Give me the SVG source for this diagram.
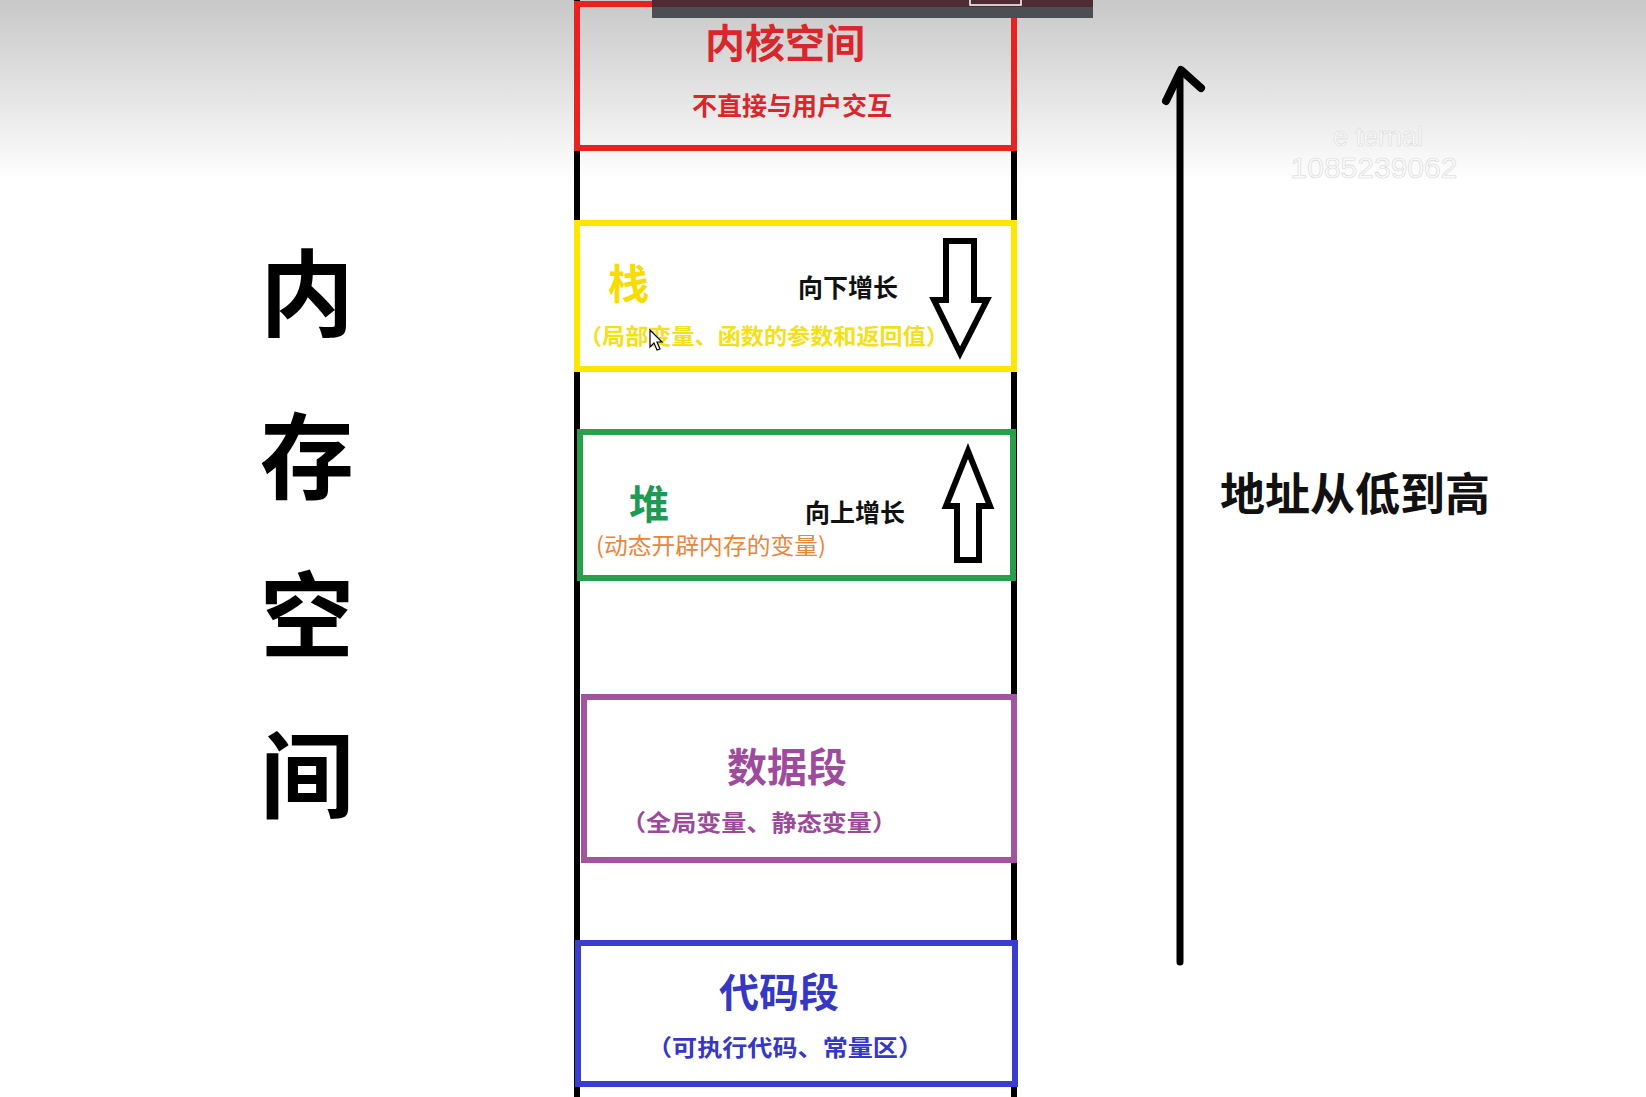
<svg xmlns="http://www.w3.org/2000/svg" width="1646" height="1097" viewBox="0 0 1646 1097">
<defs>
<linearGradient id="bg" x1="0" y1="0" x2="0" y2="1097" gradientUnits="userSpaceOnUse">
<stop offset="0" stop-color="#c8c8c8"/>
<stop offset="0.08" stop-color="#e2e2e2"/>
<stop offset="0.165" stop-color="#ffffff"/>
<stop offset="1" stop-color="#ffffff"/>
</linearGradient>
<style>
text{font-family:"Noto Sans CJK SC","Noto Sans",sans-serif;font-weight:bold}
.box{fill:none;stroke-width:6}
.mid{text-anchor:middle}
.big{font-size:94px;fill:#000;text-anchor:middle}
.blockarrow{fill:#fff;stroke:#000;stroke-width:6;stroke-linejoin:miter}
.wm{font-family:"Liberation Sans",sans-serif;font-weight:normal;text-anchor:middle;fill:#fbfbfb;stroke:#d8d8d8;stroke-width:0.6}
</style>
</defs>
<rect x="0" y="0" width="1646" height="1097" fill="url(#bg)"/>

<!-- watermark -->
<g id="watermark">
<text class="wm" x="1378" y="146" font-size="27">e  ternal</text>
<text class="wm" x="1374" y="178" font-size="30">1085239062</text>
</g>

<!-- memory column side lines -->
<g id="frame" stroke="#000" stroke-width="6">
<line x1="577" y1="0" x2="577" y2="1097"/>
<line x1="1014" y1="0" x2="1014" y2="1097"/>
</g>

<!-- left title -->
<g id="title">
<text class="big" x="307" y="329">内</text>
<text class="big" x="307" y="492">存</text>
<text class="big" x="307" y="651">空</text>
<text class="big" x="307" y="811">间</text>
</g>

<g id="kernel">
<rect class="box" x="577" y="4" width="437" height="144" stroke="#e8231f"/>
<text class="mid" x="785" y="58" font-size="40" fill="#d9262a">内核空间</text>
<text class="mid" x="792" y="115" font-size="25" fill="#d9262a">不直接与用户交互</text>
</g>

<g id="stack">
<rect x="577" y="223" width="437" height="146" fill="#ffffff" stroke="#ffe600" stroke-width="6"/>
<text x="608" y="299" font-size="41" fill="#f7dc00">栈</text>
<text x="798" y="297" font-size="25" fill="#111">向下增长</text>
<text x="579" y="344" font-size="22" fill="#f3df1a" textLength="370" lengthAdjust="spacingAndGlyphs">（局部变量、函数的参数和返回值）</text>
<path class="blockarrow" d="M946,241 L974,241 L974,300 L987,300 L960,353 L934,300 L946,300 Z"/>
<path d="M650,330 L650,347 L654,343 L657,350 L660,349 L657,342 L662,342 Z" fill="#fff" stroke="#000" stroke-width="1.2"/>
</g>

<g id="heap">
<rect x="580" y="432" width="433" height="146" fill="#ffffff" stroke="#27a04c" stroke-width="6"/>
<text x="629" y="519" font-size="40" fill="#1e9a55">堆</text>
<text x="805" y="522" font-size="25" fill="#111">向上增长</text>
<text x="596" y="554" font-size="23" fill="#e8863a" style="font-weight:normal" textLength="230" lengthAdjust="spacingAndGlyphs">(动态开辟内存的变量)</text>
<path class="blockarrow" d="M968,451 L990,506 L979,506 L979,560 L957,560 L957,506 L946,506 Z"/>
</g>

<g id="data">
<rect x="584" y="697" width="430" height="163" fill="#ffffff" stroke="#a2549f" stroke-width="6"/>
<text class="mid" x="787" y="782" font-size="40" fill="#9d4b9c">数据段</text>
<text x="621" y="831" font-size="23" fill="#9a4a99" textLength="276" lengthAdjust="spacingAndGlyphs">（全局变量、静态变量）</text>
</g>

<g id="code">
<rect x="578" y="943" width="437" height="141" fill="#ffffff" stroke="#3b3dcf" stroke-width="6"/>
<text class="mid" x="779" y="1007" font-size="40" fill="#3637c2">代码段</text>
<text x="647" y="1056" font-size="23" fill="#3637c2" textLength="276" lengthAdjust="spacingAndGlyphs">（可执行代码、常量区）</text>
</g>

<g id="connectors" fill="none" stroke="#000" stroke-linecap="round" stroke-linejoin="round">
<line x1="1180" y1="962" x2="1180" y2="72" stroke-width="7"/>
<polyline points="1166,101 1181,70 1201,88" stroke-width="8"/>
</g>

<g id="address-label">
<text x="1220" y="511" font-size="45" fill="#111">地址从低到高</text>
</g>

<!-- video overlay bar -->
<g id="topbar">
<rect x="652" y="0" width="441" height="18" fill="#4b4e53"/>
<rect x="652" y="0" width="441" height="7" fill="#4e2c33"/>
<rect x="970" y="-2" width="51" height="7" fill="none" stroke="#ffffff" stroke-width="1.5"/>
</g>
</svg>
